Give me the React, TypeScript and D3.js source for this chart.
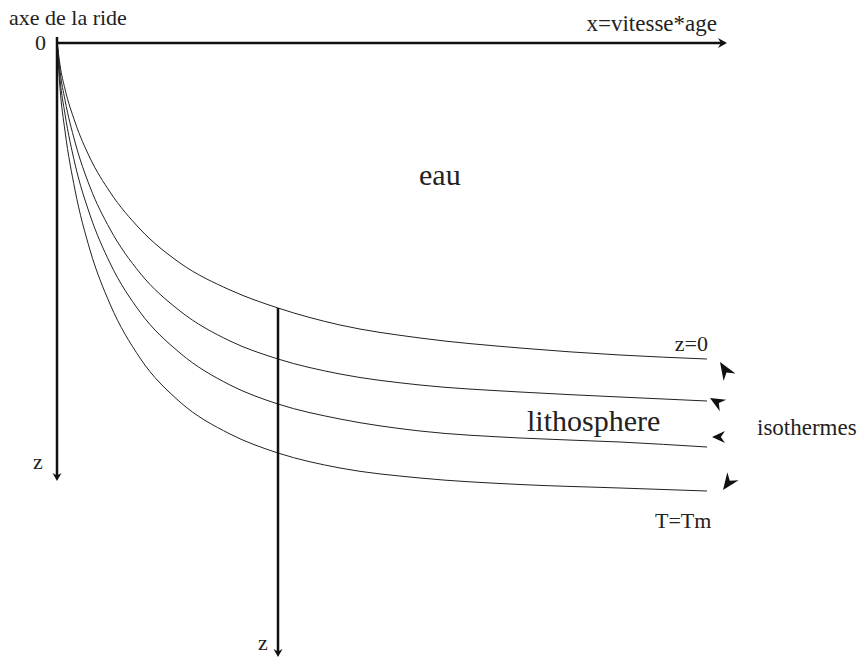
import React from "react";
import * as d3 from "d3";

// distance along x (vitesse*age) for sampled points
const xSamples = [0, 3, 8, 18, 33, 53, 83, 123, 173, 221, 283, 363, 463, 563, 650];
// isotherm depths
const isotherm1 = [0, 24, 48, 81, 117, 151, 188, 222, 249, 267, 284, 297, 307, 314, 318];
const isotherm2 = [0, 30, 59, 101, 146, 188, 232, 270, 300, 318, 333, 344, 351, 356, 360];
const isotherm3 = [0, 38, 73, 123, 174, 222, 271, 312, 344, 363, 378, 390, 397, 401, 406];
const isotherm4 = [0, 47, 90, 149, 209, 263, 317, 361, 393, 412, 427, 437, 443.5, 447, 450];
const isotherms = [isotherm1, isotherm2, isotherm3, isotherm4];

const sectionX = 221; // position of the vertical section
const sectionDepthEnd = 616;
const axisDepthEnd = 440;
const axisXEnd = 670;

const W = 858;
const H = 657;
const FONT = '"Liberation Serif", "Times New Roman", Times, serif';

function arrowHead(len: number, hw: number) {
  return `M0,0 L${-len},${-hw} L${-len * 0.68},0 L${-len},${hw} Z`;
}

export default function App() {
  const x = d3.scaleLinear().domain([0, 650]).range([57, 707]);
  const y = d3.scaleLinear().domain([0, 450]).range([41, 491]);

  const line = d3
    .line<number>()
    .x((_, i) => x(xSamples[i]))
    .y((d) => y(d))
    .curve(d3.curveMonotoneX);

  const isoArrows = [
    { tx: 720, ty: 362, a: -122, l: 18, w: 7 },
    { tx: 710, ty: 398, a: -150, l: 15, w: 6.5 },
    { tx: 712, ty: 437, a: 180, l: 13, w: 6 },
    { tx: 723, ty: 490, a: 126, l: 17, w: 7 },
  ];

  const ts = (size: number): React.CSSProperties => ({ fontFamily: FONT, fontSize: size });

  return (
    <svg
      width={W}
      height={H}
      style={{ position: "absolute", left: 0, top: 0, background: "#fff" }}
    >
      {/* isotherm curves */}
      {isotherms.map((s, i) => (
        <path key={i} d={line(s) || ""} fill="none" stroke="#222" strokeWidth={1} />
      ))}

      {/* top x axis */}
      <line x1={x(0)} y1={43} x2={x(axisXEnd) - 6} y2={43} stroke="#111" strokeWidth={2.5} />
      <path d={arrowHead(9, 5)} transform={`translate(${x(axisXEnd)},43)`} fill="#111" />

      {/* left z axis */}
      <line x1={x(0)} y1={37} x2={x(0)} y2={y(axisDepthEnd) - 5} stroke="#111" strokeWidth={2.5} />
      <path d={arrowHead(8, 4.5)} transform={`translate(${x(0)},${y(axisDepthEnd)}) rotate(90)`} fill="#111" />

      {/* vertical section */}
      <line
        x1={x(sectionX)}
        y1={y(isotherm1[9])}
        x2={x(sectionX)}
        y2={y(sectionDepthEnd) - 5}
        stroke="#111"
        strokeWidth={2.5}
      />
      <path
        d={arrowHead(8, 4.5)}
        transform={`translate(${x(sectionX)},${y(sectionDepthEnd)}) rotate(90)`}
        fill="#111"
      />

      {/* isotherm arrows */}
      {isoArrows.map((a, i) => (
        <path
          key={i}
          d={arrowHead(a.l, a.w)}
          transform={`translate(${a.tx},${a.ty}) rotate(${a.a})`}
          fill="#111"
        />
      ))}

      {/* labels */}
      <text x={9} y={25} style={ts(22)} fill="#222">axe de la ride</text>
      <text x={46} y={50} style={ts(22)} textAnchor="end" fill="#222">0</text>
      <text x={717} y={31} style={ts(23)} textAnchor="end" fill="#222">x=vitesse*age</text>
      <text x={419} y={185} style={ts(30)} fill="#222">eau</text>
      <text x={527} y={431} style={ts(30)} fill="#222">lithosphere</text>
      <text x={708} y={351} style={ts(22)} textAnchor="end" fill="#222">z=0</text>
      <text x={757} y={435} style={ts(23)} fill="#222">isothermes</text>
      <text x={655} y={528} style={ts(22)} fill="#222">T=Tm</text>
      <text x={33} y={469} style={ts(22)} fill="#222">z</text>
      <text x={258} y={650} style={ts(22)} fill="#222">z</text>
    </svg>
  );
}
